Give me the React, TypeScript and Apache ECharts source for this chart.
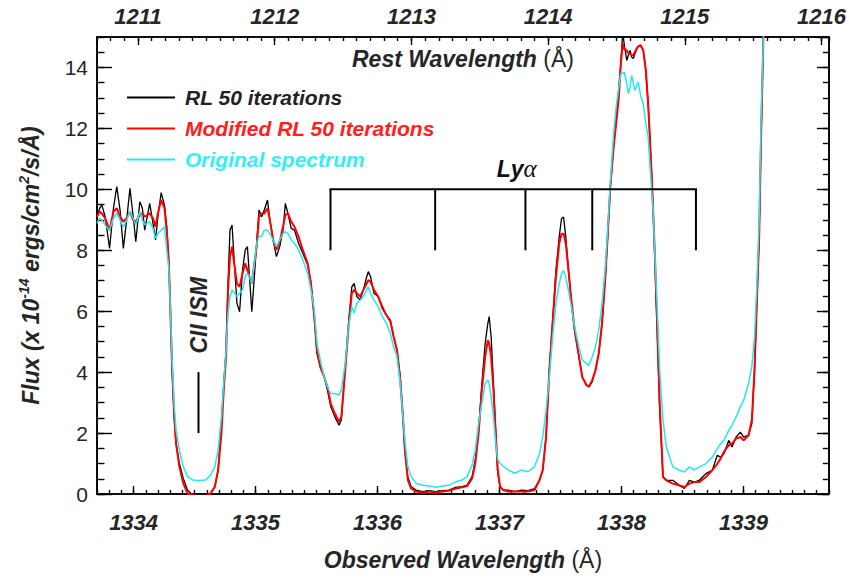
import React, { useEffect, useRef } from 'react';
import * as echarts from 'echarts';

// ---- data (observed wavelength in Å, flux in 1e-14 erg/cm2/s/Å) ----
const wavelength = [
  1333.700, 1333.722, 1333.740, 1333.767, 1333.803, 1333.835, 1333.862, 1333.889, 1333.916, 1333.943,
  1333.970, 1333.997, 1334.018, 1334.051, 1334.072, 1334.091, 1334.132, 1334.159, 1334.180, 1334.199,
  1334.226, 1334.253, 1334.272, 1334.288, 1334.299, 1334.315, 1334.332, 1334.348, 1334.375, 1334.407,
  1334.442, 1334.483, 1334.537, 1334.591, 1334.631, 1334.666, 1334.693, 1334.720, 1334.739, 1334.758,
  1334.774, 1334.790, 1334.807, 1334.828, 1334.847, 1334.869, 1334.893, 1334.915, 1334.933, 1334.950,
  1334.969, 1334.990, 1335.009, 1335.028, 1335.050, 1335.071, 1335.098, 1335.117, 1335.144, 1335.171,
  1335.198, 1335.225, 1335.244, 1335.265, 1335.292, 1335.319, 1335.352, 1335.387, 1335.427, 1335.454,
  1335.481, 1335.503, 1335.530, 1335.562, 1335.589, 1335.616, 1335.649, 1335.684, 1335.703,
  1335.735, 1335.762, 1335.789, 1335.808, 1335.830, 1335.857, 1335.884, 1335.911, 1335.924, 1335.943,
  1335.970, 1336.005, 1336.040, 1336.073, 1336.105, 1336.132, 1336.159, 1336.186, 1336.208, 1336.224,
  1336.248, 1336.275, 1336.316, 1336.370, 1336.424, 1336.478, 1336.532, 1336.586, 1336.640, 1336.694,
  1336.734, 1336.775, 1336.801, 1336.828, 1336.855, 1336.882, 1336.904, 1336.915, 1336.931, 1336.950,
  1336.969, 1336.985, 1337.004, 1337.031, 1337.071, 1337.125, 1337.179, 1337.233, 1337.287,
  1337.327, 1337.354, 1337.381, 1337.408, 1337.435, 1337.462, 1337.489, 1337.508, 1337.525, 1337.543,
  1337.565, 1337.589, 1337.616, 1337.651, 1337.678, 1337.713, 1337.732, 1337.759, 1337.786, 1337.813,
  1337.840, 1337.867, 1337.886, 1337.908, 1337.935, 1337.956, 1337.978, 1337.994, 1338.010, 1338.021,
  1338.043, 1338.056, 1338.070, 1338.083, 1338.097, 1338.110, 1338.124, 1338.137, 1338.156, 1338.178,
  1338.199, 1338.218, 1338.232, 1338.245, 1338.259, 1338.272, 1338.291, 1338.313, 1338.340, 1338.367,
  1338.421, 1338.475, 1338.515, 1338.556, 1338.596, 1338.637, 1338.691, 1338.744, 1338.785, 1338.812,
  1338.839, 1338.879, 1338.906, 1338.939, 1338.974, 1339.001, 1339.041, 1339.068, 1339.090, 1339.109,
  1339.128, 1339.144, 1339.163, 1339.180,
];

const rlFlux = [
  9.10, 9.38, 9.48, 9.10, 8.06, 9.38, 10.09, 9.32, 8.06, 8.99,
  10.03, 9.10, 8.28, 9.59, 9.38, 8.66, 9.54, 8.88, 8.34, 9.10,
  9.89, 9.48, 8.77, 7.68, 6.37, 4.18, 2.54, 1.66, 1.01, 0.51,
  0.13, -0.03, -0.09, -0.09, 0.02, 0.24, 0.79, 2.32, 3.63, 4.73,
  6.91, 8.66, 8.83, 7.46, 6.26, 5.98, 7.35, 8.01, 8.12, 7.13,
  5.98, 7.13, 8.23, 9.32, 9.10, 9.32, 9.65, 8.99, 8.34, 7.79,
  8.12, 8.66, 9.54, 9.21, 8.72, 8.66, 8.23, 7.90, 7.52, 6.91,
  5.82, 4.62, 4.18, 3.85, 3.41, 2.87, 2.54, 2.26, 2.43,
  4.18, 5.60, 6.80, 6.91, 6.48, 6.37, 6.70, 7.13, 7.30, 7.13,
  6.59, 6.48, 6.15, 5.87, 5.71, 5.16, 4.73, 3.85, 2.54, 1.44,
  0.57, 0.24, 0.13, 0.08, 0.11, 0.08, 0.11, 0.13, 0.22, 0.24,
  0.29, 0.57, 1.12, 2.10, 3.63, 4.94, 5.60, 5.82, 5.16, 3.63,
  1.99, 0.68, 0.24, 0.13, 0.13, 0.08, 0.13, 0.11, 0.18,
  0.45, 0.78, 1.87, 4.06, 5.70, 7.34, 8.44, 9.04, 9.09, 8.44,
  7.34, 6.25, 5.37, 4.50, 3.84, 3.57, 3.51, 3.68, 4.06, 4.61,
  5.59, 7.12, 8.44, 10.08, 11.39, 12.26, 13.36, 14.12, 15.2, 14.78,
  14.23, 14.40, 14.56, 14.34, 14.29, 14.45, 14.62, 14.69, 14.73, 14.56,
  13.91, 12.81, 11.72, 10.62, 9.31, 7.78, 5.48, 2.75, 0.56, 0.45,
  0.45, 0.28, 0.18, 0.45, 0.39, 0.45, 0.67, 0.78, 1.27, 1.21,
  1.32, 1.76, 1.54, 1.87, 2.03, 1.87, 1.93, 2.31, 4.06, 6.25,
  8.44, 11.72, 15.0, 17.0,
];

const modifiedRlFlux = [
  9.10, 9.27, 9.21, 9.05, 8.66, 9.27, 9.38, 9.10, 8.94, 9.05,
  9.27, 8.99, 8.94, 9.16, 9.21, 9.10, 9.21, 9.05, 8.77, 9.21,
  9.65, 9.38, 8.61, 7.68, 6.37, 4.18, 2.65, 1.66, 0.90, 0.35,
  0.02, -0.03, -0.07, -0.07, 0.02, 0.24, 0.79, 1.99, 3.41, 4.51,
  6.70, 7.79, 8.12, 7.46, 6.91, 6.80, 7.24, 7.57, 7.35, 7.13,
  6.91, 7.57, 8.12, 9.10, 9.21, 9.21, 9.38, 8.99, 8.34, 8.01,
  8.28, 8.77, 9.16, 9.21, 8.94, 8.77, 8.45, 8.01, 7.57, 6.91,
  5.82, 4.73, 4.18, 3.85, 3.52, 2.97, 2.65, 2.37, 2.54,
  4.07, 5.49, 6.59, 6.70, 6.59, 6.48, 6.70, 6.91, 7.02, 6.97,
  6.70, 6.48, 6.09, 5.87, 5.66, 5.16, 4.73, 3.74, 2.54, 1.44,
  0.46, 0.18, 0.08, 0.04, 0.08, 0.04, 0.08, 0.11, 0.18, 0.22,
  0.26, 0.51, 1.01, 1.99, 3.41, 4.51, 5.05, 4.94, 4.51, 3.41,
  1.99, 0.79, 0.24, 0.13, 0.08, 0.08, 0.08, 0.08, 0.13,
  0.45, 0.78, 1.87, 4.06, 5.59, 7.12, 8.22, 8.54, 8.54, 8.22,
  7.34, 6.36, 5.37, 4.50, 3.84, 3.57, 3.53, 3.73, 4.06, 4.61,
  5.59, 7.12, 8.44, 10.08, 11.39, 12.16, 13.03, 14.12, 14.78, 14.62,
  14.56, 14.47, 14.45, 14.40, 14.40, 14.51, 14.62, 14.69, 14.73, 14.56,
  13.91, 12.81, 11.72, 10.62, 9.31, 8.00, 5.70, 2.97, 0.56, 0.45,
  0.34, 0.28, 0.23, 0.34, 0.39, 0.39, 0.56, 0.78, 0.99, 1.16,
  1.38, 1.60, 1.65, 1.82, 1.87, 1.76, 1.93, 2.42, 4.06, 6.25,
  8.44, 11.72, 15.0, 17.0,
];

const originalFlux = [
  8.88, 9.05, 8.99, 8.83, 8.66, 9.05, 9.21, 8.99, 8.77, 8.99,
  9.27, 9.05, 8.83, 9.27, 8.99, 8.83, 8.94, 8.72, 8.39, 8.55,
  8.66, 8.77, 8.01, 7.46, 6.37, 4.51, 2.98, 2.10, 1.44, 0.90,
  0.57, 0.46, 0.44, 0.46, 0.62, 0.90, 1.44, 2.54, 3.63, 4.73,
  5.93, 6.48, 6.70, 6.59, 6.48, 6.59, 6.70, 7.13, 7.24, 7.13,
  6.91, 7.57, 8.23, 8.45, 8.45, 8.66, 8.66, 8.55, 8.34, 8.12,
  8.34, 8.55, 8.61, 8.55, 8.34, 8.23, 8.01, 7.68, 7.24, 6.70,
  6.04, 4.94, 4.40, 3.85, 3.52, 3.30, 3.30, 3.25, 3.41,
  4.29, 5.49, 6.15, 5.93, 6.26, 6.37, 6.48, 6.70, 6.80, 6.59,
  6.37, 6.15, 5.82, 5.60, 5.27, 4.83, 4.51, 3.63, 2.54, 1.77,
  0.90, 0.57, 0.35, 0.29, 0.26, 0.22, 0.26, 0.29, 0.40, 0.46,
  0.57, 0.95, 1.44, 2.32, 2.98, 3.63, 3.74, 3.63, 3.19, 2.54,
  1.66, 1.12, 1.01, 0.90, 0.79, 0.68, 0.79, 0.73, 0.90,
  1.32, 1.87, 2.75, 3.84, 5.15, 6.25, 6.90, 7.23, 7.34, 7.12,
  6.68, 6.14, 5.48, 4.82, 4.39, 4.28, 4.22, 4.50, 4.82, 5.37,
  6.25, 7.45, 8.65, 10.19, 11.83, 12.70, 13.36, 13.80, 13.80, 13.85,
  13.47, 13.14, 13.36, 13.74, 13.47, 13.25, 13.41, 13.52, 13.09, 12.81,
  12.16, 11.72, 10.84, 10.08, 9.31, 8.00, 6.25, 4.06, 2.42, 1.54,
  0.89, 0.78, 0.72, 0.89, 0.78, 0.89, 0.99, 1.21, 1.49, 1.65,
  1.76, 2.09, 2.25, 2.53, 2.86, 3.07, 3.62, 4.17, 5.15, 6.79,
  8.98, 12.26, 15.0, 17.0,
];

// ---- axes ----
const observedRange = [1333.7, 1339.7];
const restRange = [1210.7, 1216.054];
const fluxRange = [0, 15];
const fluxMajorStep = 2;
const fluxMinorStep = 0.5;
const wavelengthMinorStep = 0.1;

// ---- annotations ----
const lyaComponents = [1335.614, 1336.472, 1337.212, 1337.76, 1338.61];
const lyaBracket = [10, 8];
const lyaLabel = [1337.14, 10.67];
const ciiMarker = [1334.532, 2, 4];
const ciiLabel = [1334.534, 5.87];

const seriesNames = ['RL 50 iterations', 'Modified RL 50 iterations', 'Original spectrum'];
const seriesColors = ['#000000', '#ff0000', '#22e8f0'];
const legendTextColors = ['#222222', '#ff2020', '#33eef5'];
const seriesWidths = [1.3, 2, 1.5];

const SANS = '"Liberation Sans", Arial, Helvetica, sans-serif';
const TXT = '#262626';

export default function App() {
  const ref = useRef<HTMLDivElement>(null);

  useEffect(() => {
    document.body.style.margin = '0';
    const chart = echarts.init(ref.current!, null, { renderer: 'svg' });

    const frameLine = { show: true, onZero: false, lineStyle: { color: '#000', width: 1.6 } };
    const tickStyle = { color: '#000', width: 1.4 };
    const boldItalic = { fontFamily: SANS, fontWeight: 'bold' as const, fontStyle: 'italic' as const, color: TXT };
    const plain = (v: number) => String(Math.round(v * 1000) / 1000);

    const minorAxis = (pos: string, range: number[], step: number, len: number) => ({
      type: 'value', position: pos, min: range[0], max: range[1], interval: step,
      axisLine: { ...frameLine },
      axisTick: { show: true, inside: true, length: len, lineStyle: tickStyle },
      axisLabel: { show: false }, splitLine: { show: false },
    });

    const option: any = {
      animation: false,
      backgroundColor: '#ffffff',
      grid: { left: 97, top: 37, width: 741, height: 457, containLabel: false },
      legend: {
        orient: 'vertical', left: 122, top: 82,
        icon: 'rect',
        itemWidth: 48, itemHeight: 2, itemGap: 10,
        selectedMode: false,
        textStyle: { ...boldItalic, fontSize: 21, lineHeight: 21, padding: [0, 0, 0, 5] },
        data: seriesNames.map((n, i) => ({ name: n, textStyle: { color: legendTextColors[i] } })),
      },
      xAxis: [
        {
          type: 'value', position: 'bottom', min: observedRange[0], max: observedRange[1], splitNumber: 6,
          axisLine: frameLine,
          axisTick: { show: true, inside: true, length: 8, lineStyle: tickStyle },
          axisLabel: { margin: 17, ...boldItalic, fontSize: 22, formatter: plain, showMinLabel: false, showMaxLabel: false },
          splitLine: { show: false },
          name: '{b|Observed Wavelength }{r|(Å)}', nameLocation: 'middle', nameGap: 54,
          nameTextStyle: { rich: { b: { ...boldItalic, fontSize: 23 }, r: { fontFamily: SANS, fontSize: 23, color: TXT } } },
        },
        minorAxis('bottom', observedRange, wavelengthMinorStep, 4),
        {
          type: 'value', position: 'top', min: restRange[0], max: restRange[1], splitNumber: 6,
          axisLine: frameLine,
          axisTick: { show: true, inside: true, length: 8, lineStyle: tickStyle },
          axisLabel: { margin: 10, ...boldItalic, fontSize: 22, formatter: plain, showMinLabel: false, showMaxLabel: false },
          splitLine: { show: false },
          name: '{b|Rest Wavelength }{r|(Å)}', nameLocation: 'middle', nameGap: -33,
          nameTextStyle: { rich: { b: { ...boldItalic, fontSize: 23 }, r: { fontFamily: SANS, fontSize: 23, color: TXT } } },
        },
        minorAxis('top', restRange, wavelengthMinorStep, 4),
      ],
      yAxis: [
        {
          type: 'value', position: 'left', min: fluxRange[0], max: fluxRange[1], interval: fluxMajorStep,
          axisLine: frameLine,
          axisTick: { show: true, inside: true, length: 15, lineStyle: tickStyle },
          axisLabel: { margin: 9, fontFamily: SANS, fontSize: 21, color: TXT, showMaxLabel: false, formatter: plain },
          splitLine: { show: false },
          name: '{n|Flux (x 10}{s|-14}{n| ergs/cm}{s|2}{n|/s/Å)}', nameLocation: 'middle', nameGap: 52,
          nameTextStyle: {
            rich: {
              n: { ...boldItalic, fontSize: 23, lineHeight: 28 },
              s: { ...boldItalic, fontSize: 14, lineHeight: 16, verticalAlign: 'top' },
            },
          },
        },
        minorAxis('left', fluxRange, fluxMinorStep, 7.5),
        {
          type: 'value', position: 'right', min: fluxRange[0], max: fluxRange[1], interval: fluxMajorStep,
          axisLine: frameLine,
          axisTick: { show: true, inside: true, length: 12, lineStyle: tickStyle },
          axisLabel: { show: false }, splitLine: { show: false },
        },
        minorAxis('right', fluxRange, fluxMinorStep, 6),
      ],
      series: [
        ...seriesNames.map((name, s) => ({
          type: 'line', name, xAxisIndex: 0, yAxisIndex: 0,
          data: wavelength.map((w, i) => [w, [rlFlux, modifiedRlFlux, originalFlux][s][i]]),
          symbol: 'none', showSymbol: false, clip: true, silent: true,
          lineStyle: { color: seriesColors[s], width: seriesWidths[s] },
          itemStyle: { color: seriesColors[s] },
          z: 2 + s,
        })),
        {
          type: 'custom', name: 'lya', xAxisIndex: 0, yAxisIndex: 0, silent: true, z: 10,
          data: lyaComponents.map(w => [w, lyaBracket[0]]),
          renderItem: (params: any, api: any) => {
            const w = api.value(0);
            const top = api.coord([w, lyaBracket[0]]);
            const bottom = api.coord([w, lyaBracket[1]]);
            const st = { stroke: '#000', lineWidth: 2 };
            const children: any[] = [
              { type: 'line', shape: { x1: top[0], y1: top[1], x2: bottom[0], y2: bottom[1] }, style: st },
            ];
            if (params.dataIndex === 0) {
              const end = api.coord([lyaComponents[lyaComponents.length - 1], lyaBracket[0]]);
              children.push({ type: 'line', shape: { x1: top[0] - 1, y1: top[1], x2: end[0] + 1, y2: end[1] }, style: st });
              const lp = api.coord(lyaLabel);
              children.push({
                type: 'text', x: lp[0], y: lp[1],
                style: {
                  text: '{a|Ly}{b|α}', align: 'center', verticalAlign: 'middle',
                  rich: {
                    a: { fontFamily: SANS, fontWeight: 'bold', fontStyle: 'italic', fontSize: 23, fill: '#111' },
                    b: { fontFamily: '"Liberation Serif", "DejaVu Serif", serif', fontStyle: 'italic', fontSize: 25, fill: '#111' },
                  },
                },
              });
            }
            return { type: 'group', children };
          },
        },
        {
          type: 'custom', name: 'cii', xAxisIndex: 0, yAxisIndex: 0, silent: true, z: 10,
          data: [ciiMarker],
          renderItem: (params: any, api: any) => {
            const a = api.coord([api.value(0), api.value(1)]);
            const b = api.coord([api.value(0), api.value(2)]);
            const lp = api.coord(ciiLabel);
            return {
              type: 'group',
              children: [
                { type: 'line', shape: { x1: a[0], y1: a[1], x2: b[0], y2: b[1] }, style: { stroke: '#000', lineWidth: 2 } },
                {
                  type: 'text', x: lp[0], y: lp[1], rotation: Math.PI / 2,
                  style: {
                    text: 'CII ISM', align: 'center', verticalAlign: 'middle',
                    fontFamily: SANS, fontWeight: 'bold', fontStyle: 'italic', fontSize: 23, fill: TXT,
                  },
                },
              ],
            };
          },
        },
      ],
    };

    chart.setOption(option);
    return () => chart.dispose();
  }, []);

  return <div ref={ref} style={{ width: 849, height: 578 }} />;
}
